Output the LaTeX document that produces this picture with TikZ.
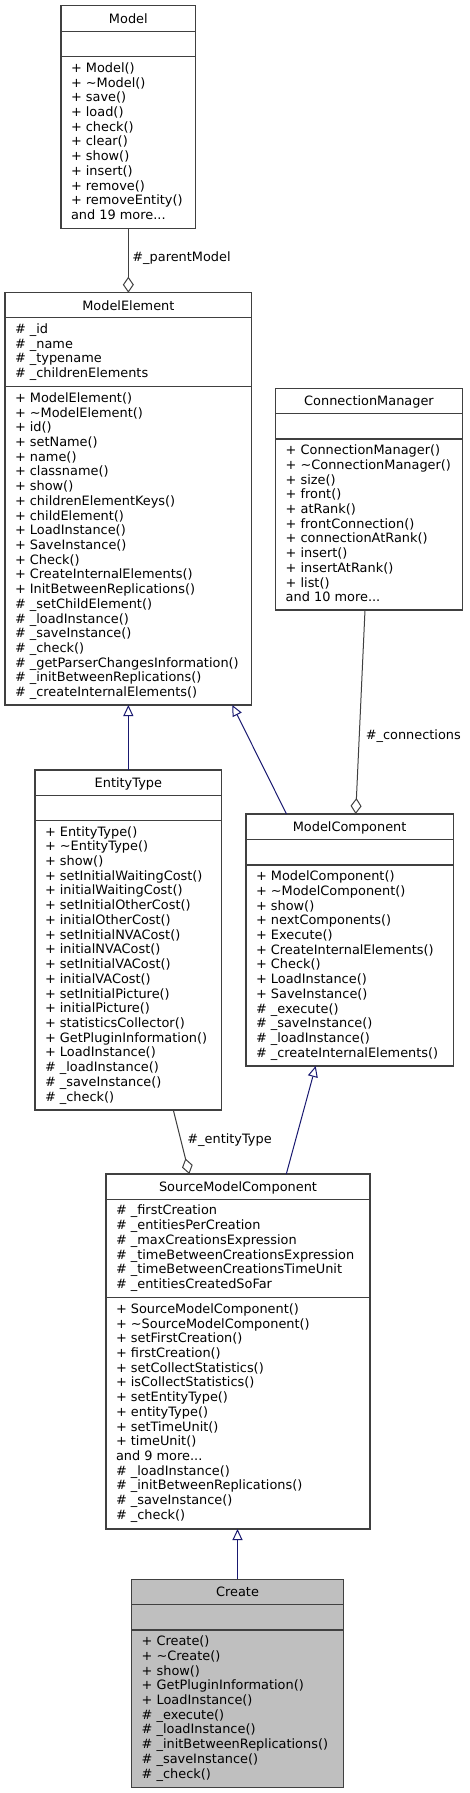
\documentclass[tikz,border=0pt]{standalone}
\usepackage{fontspec}
\setmainfont{DejaVu Sans}
\usetikzlibrary{arrows.meta,calc}
\definecolor{boxline}{HTML}{404040}
\definecolor{inhcol}{HTML}{191970}
\definecolor{aggcol}{HTML}{404040}
\definecolor{createfill}{HTML}{BFBFBF}
\newcommand\tdots{...}
\tikzset{
  umlfont/.style={font=\fontsize{12.9}{14.72}\selectfont},
  membertxt/.style={umlfont, anchor=base west, inner sep=0pt, outer sep=0pt},
  titletxt/.style={umlfont, anchor=base, inner sep=0pt, outer sep=0pt},
  lbltxt/.style={umlfont, anchor=base west, inner sep=0pt, outer sep=0pt},
  boxnode/.style={draw=boxline, line width=1.3pt, rectangle, inner sep=0pt, outer sep=0pt, anchor=north west},
  seprule/.style={draw=boxline, line width=1.3pt},
  inh/.style={draw=inhcol, line width=1pt, -{Triangle[open, length=11pt, width=10pt, fill=white]}},
  agg/.style={draw=aggcol, line width=1pt, -{Diamond[open, length=16pt, width=11pt, fill=white]}},
}
% #1 name, #2 L, #3 R, #4 T, #5 sep1, #6 sep2, #7 bottom, #8 fill
\newcommand\umlbox[8]{%
  \node[boxnode, fill=#8, minimum width={(#3-#2)*1pt}, minimum height={(#7-#4)*1pt}] (#1) at (#2,#4) {};
  \draw[seprule] (#2,#5) -- (#3,#5);
  \draw[seprule] (#2,#6) -- (#3,#6);
}
% #1 prefix, #2 x, #3 first baseline, #4 list
\newcommand\umllines[4]{%
  \foreach \t [count=\i] in {#4} {
    \node[membertxt] (#1-\i) at (#2,{#3+14.72*(\i-1)}) {\t};
  }
}
\begin{document}
\begin{tikzpicture}[x=1pt,y=-1pt]
\useasboundingbox (0,0) rectangle (469,1793);

% Model
\umlbox{model}{61}{195.7}{5.7}{31.7}{56.7}{228.7}{white}
\node[titletxt] (model-title) at (128.35,23.2) {Model};
\umllines{modelm}{71}{72.3}{+ Model(),+ \textasciitilde Model(),+ save(),+ load(),+ check(),+ clear(),+ show(),+ insert(),+ remove(),+ removeEntity(),and 19 more\tdots}

% ModelElement
\umlbox{melem}{5}{251.7}{292.7}{317.7}{386.7}{705}{white}
\node[titletxt] (melem-title) at (128.35,310.2) {ModelElement};
\umllines{melema}{15}{333.3}{\# \_id,\# \_name,\# \_typename,\# \_childrenElements}
\umllines{melemm}{15}{402.3}{+ ModelElement(),+ \textasciitilde ModelElement(),+ id(),+ setName(),+ name(),+ classname(),+ show(),+ childrenElementKeys(),+ childElement(),+ LoadInstance(),+ SaveInstance(),+ Check(),+ CreateInternalElements(),+ InitBetweenReplications(),\# \_setChildElement(),\# \_loadInstance(),\# \_saveInstance(),\# \_check(),\# \_getParserChangesInformation(),\# \_initBetweenReplications(),\# \_createInternalElements()}

% ConnectionManager
\umlbox{cman}{275.7}{462.3}{388.3}{413.5}{439}{610}{white}
\node[titletxt] (cman-title) at (369,405.8) {ConnectionManager};
\umllines{cmanm}{285.7}{454.6}{+ ConnectionManager(),+ \textasciitilde ConnectionManager(),+ size(),+ front(),+ atRank(),+ frontConnection(),+ connectionAtRank(),+ insert(),+ insertAtRank(),+ list(),and 10 more\tdots}

% EntityType
\umlbox{etype}{35}{221.7}{770}{795.3}{820.5}{1110}{white}
\node[titletxt] (etype-title) at (128.35,787.5) {EntityType};
\umllines{etypem}{45}{836.1}{+ EntityType(),+ \textasciitilde EntityType(),+ show(),+ setInitialWaitingCost(),+ initialWaitingCost(),+ setInitialOtherCost(),+ initialOtherCost(),+ setInitialNVACost(),+ initialNVACost(),+ setInitialVACost(),+ initialVACost(),+ setInitialPicture(),+ initialPicture(),+ statisticsCollector(),+ GetPluginInformation(),+ LoadInstance(),\# \_loadInstance(),\# \_saveInstance(),\# \_check()}

% ModelComponent
\umlbox{mcomp}{246}{453.3}{814}{839.3}{865}{1066}{white}
\node[titletxt] (mcomp-title) at (349.65,831.5) {ModelComponent};
\umllines{mcompm}{256}{880.6}{+ ModelComponent(),+ \textasciitilde ModelComponent(),+ show(),+ nextComponents(),+ Execute(),+ CreateInternalElements(),+ Check(),+ LoadInstance(),+ SaveInstance(),\# \_execute(),\# \_saveInstance(),\# \_loadInstance(),\# \_createInternalElements()}

% SourceModelComponent
\umlbox{smc}{106}{370}{1174}{1199.3}{1297.7}{1529}{white}
\node[titletxt] (smc-title) at (238,1191.5) {SourceModelComponent};
\umllines{smca}{116}{1214.9}{\# \_firstCreation,\# \_entitiesPerCreation,\# \_maxCreationsExpression,\# \_timeBetweenCreationsExpression,\# \_timeBetweenCreationsTimeUnit,\# \_entitiesCreatedSoFar}
\umllines{smcm}{116}{1313.3}{+ SourceModelComponent(),+ \textasciitilde SourceModelComponent(),+ setFirstCreation(),+ firstCreation(),+ setCollectStatistics(),+ isCollectStatistics(),+ setEntityType(),+ entityType(),+ setTimeUnit(),+ timeUnit(),and 9 more\tdots,\# \_loadInstance(),\# \_initBetweenReplications(),\# \_saveInstance(),\# \_check()}

% Create
\umlbox{create}{131.7}{343.3}{1579.3}{1604.5}{1630}{1787.3}{createfill}
\node[titletxt] (create-title) at (237.5,1596.8) {Create};
\umllines{createm}{141.7}{1645.6}{+ Create(),+ \textasciitilde Create(),+ show(),+ GetPluginInformation(),+ LoadInstance(),\# \_execute(),\# \_loadInstance(),\# \_initBetweenReplications(),\# \_saveInstance(),\# \_check()}

% connector end points
\coordinate (cm-from) at (365,610);
\coordinate (cm-to) at (355.7,814);
\coordinate (et-from) at (173.3,1110);
\coordinate (et-to) at (189.3,1174);
\coordinate (mc-from) at (286.5,814);
\coordinate (mc-to) at (232.3,705);
\coordinate (smc-from) at (286.3,1174);
\coordinate (smc-to) at (315.7,1066);

% aggregations
\draw[agg] (model.south) -- (melem.north);
\node[lbltxt] (lbl-parent) at (132.4,261.5) {\#\_parentModel};
\draw[agg] (cm-from) -- (cm-to);
\node[lbltxt] (lbl-conn) at (365.8,739) {\#\_connections};
\draw[agg] (et-from) -- (et-to);
\node[lbltxt] (lbl-etype) at (187.4,1143.5) {\#\_entityType};

% generalizations
\draw[inh] (etype.north) -- (melem.south);
\draw[inh] (mc-from) -- (mc-to);
\draw[inh] (smc-from) -- (smc-to);
\draw[inh] (create.north) -- (create.north |- smc.south);
\end{tikzpicture}
\end{document}
